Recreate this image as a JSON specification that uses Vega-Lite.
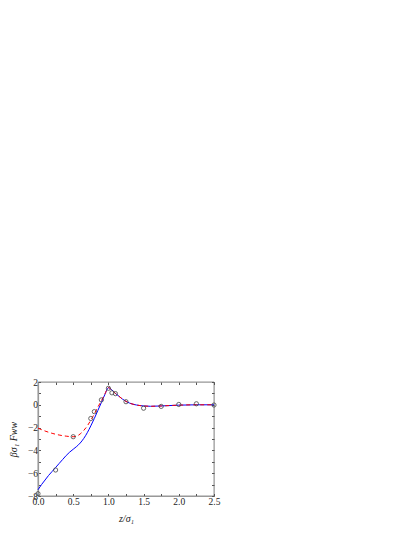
{
  "$schema": "https://vega.github.io/schema/vega-lite/v6.json",
  "autosize": {"type": "none"},
  "padding": {"left": 38, "top": 382, "right": 201, "bottom": 41},
  "width": 176,
  "height": 114,
  "background": "white",
  "config": {
    "view": {"stroke": "#222", "strokeWidth": 0.6},
    "font": "Liberation Serif",
    "axis": {
      "labelFont": "Liberation Serif",
      "titleFont": "Liberation Serif",
      "labelFontSize": 9.5,
      "titleFontSize": 10,
      "titleFontWeight": "normal",
      "labelColor": "#222",
      "titleColor": "#222",
      "domainColor": "#999",
      "domainWidth": 1.2,
      "tickColor": "#555",
      "tickSize": -2.5,
      "grid": false,
      "labelPadding": 5
    }
  },
  "datasets": {
    "pts": [
      {"x": 0.0, "y": -7.8}, {"x": 0.25, "y": -5.72}, {"x": 0.5, "y": -2.8},
      {"x": 0.75, "y": -1.2}, {"x": 0.8, "y": -0.6}, {"x": 0.9, "y": 0.43},
      {"x": 1.0, "y": 1.45}, {"x": 1.05, "y": 1.05}, {"x": 1.1, "y": 0.98},
      {"x": 1.25, "y": 0.27}, {"x": 1.5, "y": -0.3}, {"x": 1.75, "y": -0.14},
      {"x": 2.0, "y": 0.03}, {"x": 2.25, "y": 0.09}, {"x": 2.5, "y": -0.02}
    ],
    "blue": [
      {"x": 0.0, "y": -7.45}, {"x": 0.05, "y": -7.0}, {"x": 0.1, "y": -6.6},
      {"x": 0.15, "y": -6.2}, {"x": 0.2, "y": -5.85}, {"x": 0.25, "y": -5.5},
      {"x": 0.3, "y": -5.15}, {"x": 0.35, "y": -4.8}, {"x": 0.4, "y": -4.45},
      {"x": 0.45, "y": -4.15}, {"x": 0.5, "y": -3.9}, {"x": 0.55, "y": -3.65},
      {"x": 0.6, "y": -3.35}, {"x": 0.65, "y": -2.95}, {"x": 0.7, "y": -2.45},
      {"x": 0.75, "y": -1.85}, {"x": 0.8, "y": -1.2}, {"x": 0.85, "y": -0.5},
      {"x": 0.9, "y": 0.2}, {"x": 0.95, "y": 0.9}, {"x": 1.0, "y": 1.5},
      {"x": 1.05, "y": 1.3}, {"x": 1.1, "y": 1.0}, {"x": 1.15, "y": 0.75},
      {"x": 1.2, "y": 0.5}, {"x": 1.25, "y": 0.3}, {"x": 1.3, "y": 0.15},
      {"x": 1.4, "y": -0.02}, {"x": 1.5, "y": -0.1}, {"x": 1.6, "y": -0.13},
      {"x": 1.75, "y": -0.1}, {"x": 2.0, "y": -0.03}, {"x": 2.25, "y": 0.0},
      {"x": 2.5, "y": 0.0}
    ],
    "red": [
      {"x": 0.0, "y": -2.05}, {"x": 0.1, "y": -2.3}, {"x": 0.2, "y": -2.5},
      {"x": 0.3, "y": -2.65}, {"x": 0.4, "y": -2.75}, {"x": 0.5, "y": -2.8},
      {"x": 0.55, "y": -2.75}, {"x": 0.6, "y": -2.55}, {"x": 0.65, "y": -2.25},
      {"x": 0.7, "y": -1.85}, {"x": 0.75, "y": -1.35}, {"x": 0.8, "y": -0.8},
      {"x": 0.85, "y": -0.2}, {"x": 0.9, "y": 0.35}, {"x": 0.95, "y": 0.95},
      {"x": 1.0, "y": 1.5}, {"x": 1.05, "y": 1.3}, {"x": 1.1, "y": 1.0},
      {"x": 1.15, "y": 0.75}, {"x": 1.2, "y": 0.5}, {"x": 1.25, "y": 0.3},
      {"x": 1.3, "y": 0.15}, {"x": 1.4, "y": -0.02}, {"x": 1.5, "y": -0.1},
      {"x": 1.6, "y": -0.13}, {"x": 1.75, "y": -0.1}, {"x": 2.0, "y": -0.03},
      {"x": 2.25, "y": 0.0}, {"x": 2.5, "y": 0.0}
    ]
  },
  "resolve": {"axis": {"x": "independent", "y": "independent"}},
  "layer": [
    {
      "data": {"name": "blue"},
      "mark": {"type": "line", "color": "#0000ff", "strokeWidth": 1, "interpolate": "monotone"},
      "encoding": {
        "x": {"field": "x", "type": "quantitative",
              "scale": {"domain": [0, 2.5], "nice": false},
              "axis": {"orient": "bottom", "title": "z/σ₁", "titleFontStyle": "italic",
                       "values": [0, 0.25, 0.5, 0.75, 1, 1.25, 1.5, 1.75, 2, 2.25, 2.5],
                       "labelExpr": "datum.value % 0.5 == 0 ? format(datum.value, '.1f') : ''",
                       "labelFlush": false, "labelOverlap": false, "labelPadding": 3, "titlePadding": 7}},
        "y": {"field": "y", "type": "quantitative",
              "scale": {"domain": [-8, 2], "nice": false},
              "axis": {"orient": "left", "title": "βσ₁ Fww", "titleFontStyle": "italic",
                       "values": [-8, -7, -6, -5, -4, -3, -2, -1, 0, 1, 2],
                       "labelExpr": "datum.value % 2 == 0 ? format(datum.value, 'd') : ''",
                       "labelFlush": false, "labelOverlap": false, "labelPadding": 3, "titlePadding": 9}}
      }
    },
    {
      "data": {"name": "red"},
      "mark": {"type": "line", "color": "#ff0000", "strokeWidth": 1, "strokeDash": [4, 3], "interpolate": "monotone"},
      "encoding": {
        "x": {"field": "x", "type": "quantitative",
              "axis": {"orient": "top", "title": null, "labels": false, "domain": false,
                       "values": [0, 0.25, 0.5, 0.75, 1, 1.25, 1.5, 1.75, 2, 2.25, 2.5]}},
        "y": {"field": "y", "type": "quantitative",
              "axis": {"orient": "right", "title": null, "labels": false, "domain": false,
                       "values": [-8, -7, -6, -5, -4, -3, -2, -1, 0, 1, 2]}}
      }
    },
    {
      "data": {"name": "pts"},
      "mark": {"type": "point", "shape": "circle", "filled": false, "color": "#444", "strokeWidth": 0.8, "size": 18, "opacity": 1},
      "encoding": {
        "x": {"field": "x", "type": "quantitative", "axis": null},
        "y": {"field": "y", "type": "quantitative", "axis": null}
      }
    }
  ]
}
